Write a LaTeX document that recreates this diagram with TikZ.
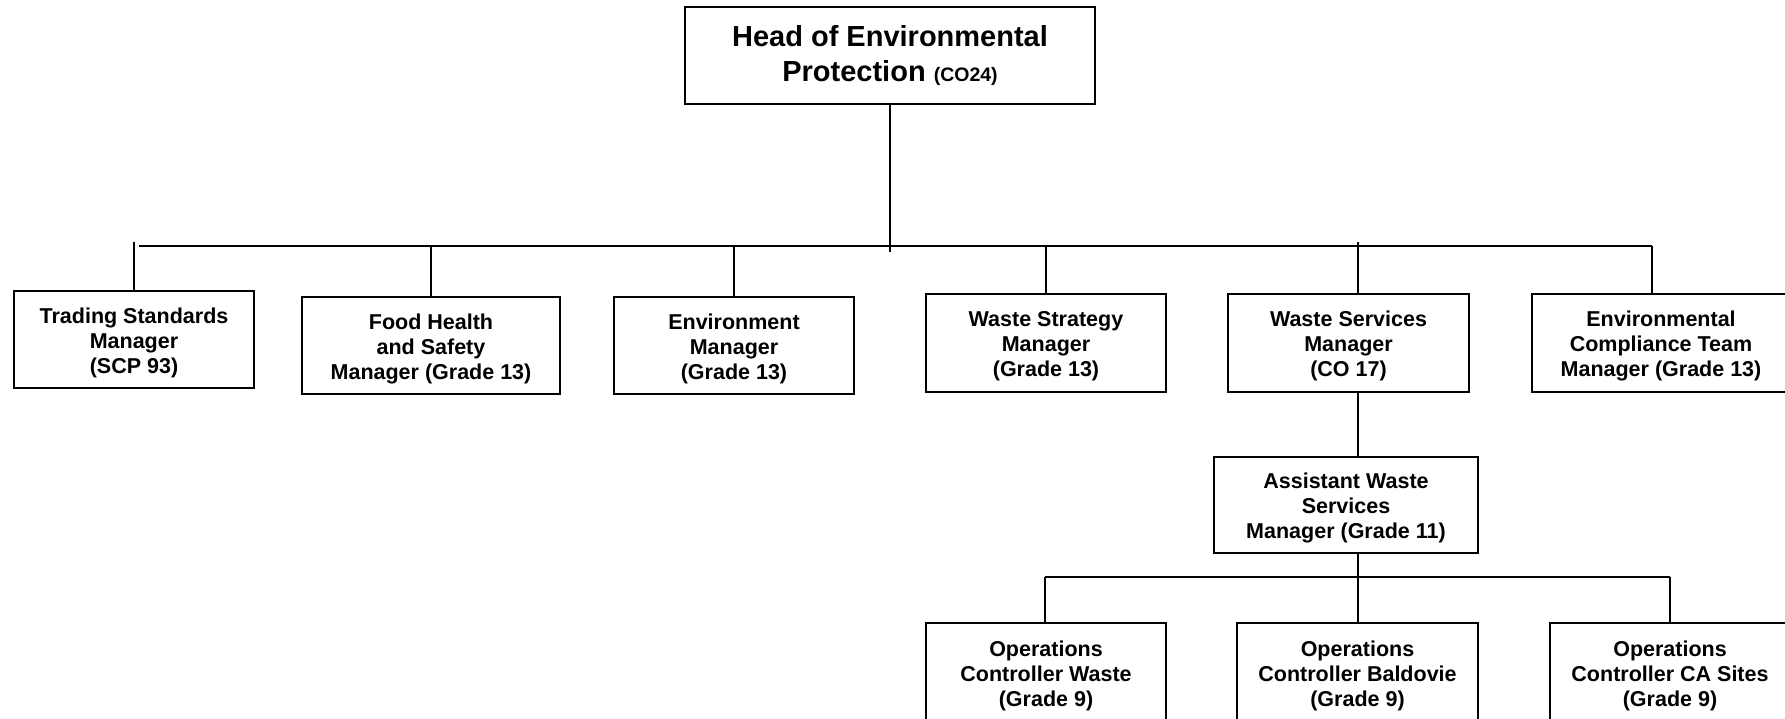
\documentclass[tikz,border=0pt]{standalone}
\usepackage{fontspec}
\setmainfont{Liberation Sans}
\newcommand\firststrut{\rule{0pt}{22pt}}
\begin{document}
\begin{tikzpicture}[x=1pt,y=-1pt,
  box/.style={draw, line width=2.2pt, rectangle, inner sep=0pt, align=center,
    font=\fontsize{21.5}{25}\selectfont\bfseries},
  headbox/.style={draw, line width=2.2pt, rectangle, inner sep=0pt, align=center,
    font=\fontsize{29}{35}\selectfont\bfseries},
  link/.style={line width=2.2pt}]
\useasboundingbox (0,0) rectangle (1785,718);
% head
\node[headbox, minimum width=410pt, minimum height=97pt] (head) at (890,55.5)
  {Head of Environmental\\Protection {\fontsize{19.5}{20}\selectfont (CO24)}};
% first row
\node[box, minimum width=240pt, minimum height=97pt] (trade) at (134,339.5)
  {\firststrut Trading Standards\\Manager\\(SCP 93)};
\node[box, minimum width=258pt, minimum height=97pt] (food) at (431,345.5)
  {\firststrut Food Health\\and Safety\\Manager (Grade 13)};
\node[box, minimum width=240pt, minimum height=97pt] (env) at (734,345.5)
  {\firststrut Environment\\Manager\\(Grade 13)};
\node[box, minimum width=240pt, minimum height=98pt] (wstrat) at (1046,343)
  {\firststrut Waste Strategy\\Manager\\(Grade 13)};
\node[box, minimum width=241pt, minimum height=98pt] (wserv) at (1348.5,343)
  {\firststrut Waste Services\\Manager\\(CO 17)};
\node[box, minimum width=258pt, minimum height=98pt] (ecomp) at (1661,343)
  {\firststrut Environmental\\Compliance Team\\Manager (Grade 13)};
% assistant
\node[box, minimum width=264pt, minimum height=96pt] (asst) at (1346,505)
  {\firststrut Assistant Waste\\Services\\Manager (Grade 11)};
% bottom row
\node[box, minimum width=240pt, minimum height=106pt] (opw) at (1046,676)
  {Operations\\Controller Waste\\(Grade 9)};
\node[box, minimum width=241pt, minimum height=106pt] (opb) at (1357.5,676)
  {Operations\\Controller Baldovie\\(Grade 9)};
\node[box, minimum width=240pt, minimum height=106pt] (opc) at (1670,676)
  {Operations\\Controller CA Sites\\(Grade 9)};
% coordinates
\coordinate (busL) at (139,246);
\coordinate (busR) at (1652,246);
\coordinate (headEnd) at (890,252);
\coordinate (tradeTop) at (134,242);
\coordinate (wservTop) at (1358,242);
\coordinate (wservBot) at (1358,392);
\coordinate (bus2L) at (1045,577);
\coordinate (bus2R) at (1670,577);
\coordinate (asstBot) at (1358,553);
% connectors
\draw[link] (head.south) -- (headEnd);
\draw[link] (busL) -- (busR);
\draw[link] (tradeTop) -- (tradeTop |- trade.north);
\draw[link] (food.north |- busL) -- (food.north);
\draw[link] (env.north |- busL) -- (env.north);
\draw[link] (wstrat.north |- busL) -- (wstrat.north);
\draw[link] (wservTop) -- (wservTop |- wserv.north);
\draw[link] (busR) -- (busR |- ecomp.north);
\draw[link] (wservBot) -- (wservBot |- asst.north);
\draw[link] (asstBot) -- (asstBot |- opb.north);
\draw[link] (bus2L) -- (bus2R);
\draw[link] (bus2L) -- (bus2L |- opw.north);
\draw[link] (bus2R) -- (bus2R |- opc.north);
\end{tikzpicture}
\end{document}
